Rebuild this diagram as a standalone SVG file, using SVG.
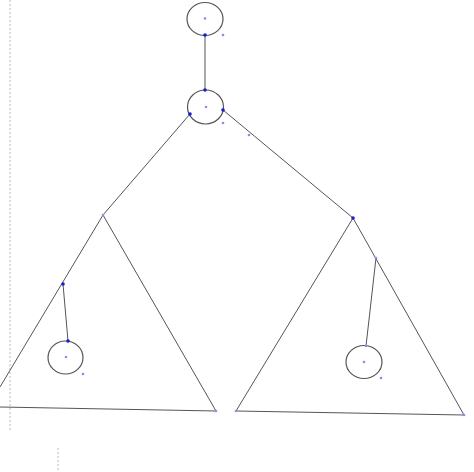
<svg xmlns="http://www.w3.org/2000/svg" width="474" height="472" viewBox="0 0 474 472">
<style>
.l{stroke:#555;stroke-width:1;fill:none}
.c{stroke:#555;stroke-width:1.2;fill:none}
.p{fill:#1a1ad6}
.q{fill:#8a8af0}
.d{stroke:#bbb;stroke-width:1;stroke-dasharray:2,2;fill:none}
</style>
<rect width="474" height="472" fill="#fff"/>
<g id="guides">
<line class="d" x1="10" y1="0" x2="10" y2="432"/>
<line class="d" x1="58" y1="448" x2="58" y2="472"/>
</g>
<g id="connectors">
<line class="l" x1="205" y1="35" x2="205" y2="90"/>
<line class="l" x1="190" y1="114" x2="103" y2="215"/>
<line class="l" x1="223" y1="110" x2="353" y2="218"/>
<line class="l" x1="63" y1="284" x2="68" y2="341"/>
<line class="l" x1="376" y1="258" x2="366" y2="346"/>
</g>
<g id="node-top">
<ellipse class="c" cx="205" cy="19" rx="18" ry="16.5"/>
<circle class="q" cx="205" cy="18.5" r="1.3"/>
<circle class="p" cx="205" cy="35" r="1.8"/>
<circle class="q" cx="223" cy="35" r="1.3"/>
</g>
<g id="node-mid">
<ellipse class="c" cx="205.5" cy="107" rx="18" ry="17"/>
<circle class="q" cx="206" cy="107" r="1.3"/>
<circle class="p" cx="205" cy="90" r="1.8"/>
<circle class="p" cx="190" cy="114" r="1.8"/>
<circle class="p" cx="223" cy="110" r="1.8"/>
<circle class="q" cx="223" cy="123" r="1.3"/>
<circle class="q" cx="249" cy="135" r="1.3"/>
</g>
<g id="triangle-left">
<polyline class="l" points="0,387 103,215 216,411"/>
<line class="l" x1="0" y1="407" x2="216" y2="411" stroke-width="1.3"/>
<circle class="q" cx="103" cy="215" r="1.3"/>
<circle class="p" cx="63" cy="284" r="1.8"/>
<circle class="q" cx="216" cy="411" r="1.3"/>
</g>
<g id="node-left">
<ellipse class="c" cx="65.5" cy="357.5" rx="17.5" ry="16.5"/>
<circle class="q" cx="66" cy="357" r="1.3"/>
<circle class="p" cx="68" cy="341" r="1.8"/>
<circle class="q" cx="83" cy="374" r="1.3"/>
</g>
<g id="triangle-right">
<polygon class="l" points="353,218 236,411 464,415"/>
<circle class="p" cx="353" cy="218" r="1.8"/>
<circle class="q" cx="376" cy="258" r="1.3"/>
<circle class="q" cx="236" cy="411" r="1.3"/>
<circle class="q" cx="464" cy="415" r="1.3"/>
</g>
<g id="node-right">
<ellipse class="c" cx="364" cy="362" rx="18" ry="16.5"/>
<circle class="q" cx="364" cy="362" r="1.3"/>
<circle class="q" cx="366" cy="346" r="1.3"/>
<circle class="q" cx="381" cy="378" r="1.3"/>
</g>
</svg>
